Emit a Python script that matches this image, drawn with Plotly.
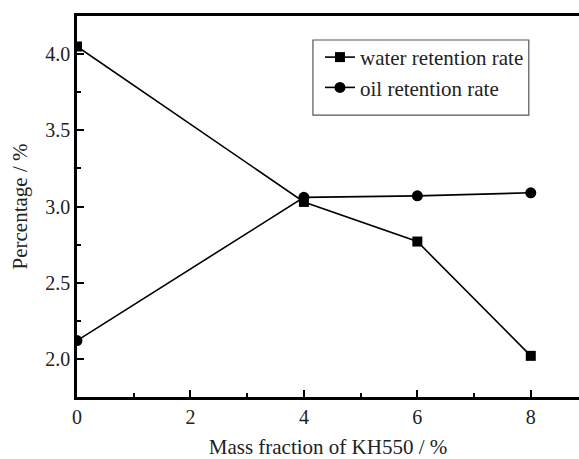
import plotly.graph_objects as go

# KH550 mass fraction (%) and measured retention rates (%)
mass_fraction = [0, 4, 6, 8]
water_retention = [4.05, 3.03, 2.77, 2.02]
oil_retention = [2.12, 3.06, 3.07, 3.09]

x_ticks = [0, 2, 4, 6, 8]
y_ticks = [2.0, 2.5, 3.0, 3.5, 4.0]

FONT = "Liberation Serif"
TEXT_COLOR = "#222"

fig = go.Figure()
fig.add_trace(go.Scatter(
    x=mass_fraction, y=water_retention, mode="lines+markers",
    name="water retention rate",
    line=dict(color="black", width=1.6),
    marker=dict(symbol="square", size=10, color="black"),
))
fig.add_trace(go.Scatter(
    x=mass_fraction, y=oil_retention, mode="lines+markers",
    name="oil retention rate",
    line=dict(color="black", width=1.6),
    marker=dict(symbol="circle", size=11, color="black"),
))

axis_common = dict(
    showgrid=False, zeroline=False, showline=True, linecolor="black",
    linewidth=2.5, ticks="inside", tickcolor="black", tickwidth=2,
    ticklen=7, tickfont=dict(family=FONT, size=20, color=TEXT_COLOR),
)

# x axis line is mirrored to draw the top frame edge
fig.update_xaxes(
    **axis_common, range=[0, 8.85], tickvals=x_ticks,
    ticktext=[str(v) for v in x_ticks], mirror=True,
    minor=dict(dtick=1, ticks="inside", ticklen=4, tickwidth=2, tickcolor="black", showgrid=False),
    title=dict(text="Mass fraction of KH550 / %", font=dict(family=FONT, size=21, color=TEXT_COLOR), standoff=14),
)
fig.update_yaxes(
    **axis_common, range=[1.75, 4.25], tickvals=y_ticks,
    ticktext=[f"{v:.1f}" for v in y_ticks],
    minor=dict(dtick=0.25, ticks="inside", ticklen=4, tickwidth=2, tickcolor="black", showgrid=False),
    title=dict(text="Percentage / %", font=dict(family=FONT, size=21, color=TEXT_COLOR), standoff=12),
)

# legend frame
fig.add_shape(type="rect", xref="paper", yref="paper",
              x0=0.47, x1=0.9, y0=0.74, y1=0.937,
              line=dict(color="#555", width=1.2), fillcolor="rgba(0,0,0,0)")

fig.update_layout(
    width=579, height=459,
    margin=dict(l=77, r=0, t=16, b=62),
    paper_bgcolor="white", plot_bgcolor="white",
    showlegend=True,
    legend=dict(x=0.484, y=0.945, xanchor="left", yanchor="top",
                bgcolor="rgba(0,0,0,0)", borderwidth=0,
                font=dict(family=FONT, size=21, color=TEXT_COLOR),
                itemwidth=30, tracegroupgap=0),
)

fig.write_html("out.html")
